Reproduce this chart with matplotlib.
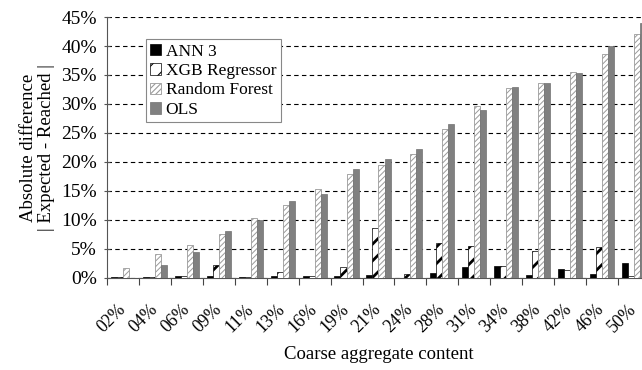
import numpy as np
import matplotlib
matplotlib.use("Agg")
import matplotlib.pyplot as plt
import matplotlib.transforms as mtransforms
from matplotlib.ticker import PercentFormatter, FixedLocator

plt.rcParams['font.family'] = ['Liberation Serif', 'DejaVu Serif']
plt.rcParams['hatch.linewidth'] = 0.8

# data (percent)
categories = ["02%", "04%", "06%", "09%", "11%", "13%", "16%", "19%", "21%",
              "24%", "28%", "31%", "34%", "38%", "42%", "46%", "50%"]
ann3 = [0.1, 0.1, 0.3, 0.3, 0.2, 0.3, 0.4, 0.3, 0.45,
        0.05, 0.9, 1.9, 2.1, 0.45, 1.6, 0.6, 2.6]
xgb = [0.1, 0.1, 0.4, 2.2, 0.1, 1.0, 0.4, 1.8, 8.6,
       0.75, 6.1, 5.45, 2.0, 4.65, 1.3, 5.35, 0.3]
rforest = [1.7, 4.2, 5.75, 7.65, 10.25, 12.5, 15.4, 18.0, 19.4,
           21.4, 25.6, 29.6, 32.8, 33.6, 35.6, 38.7, 42.1]
ols = [0.0, 2.2, 4.5, 8.05, 9.95, 13.3, 14.4, 18.7, 20.5,
       22.2, 26.5, 28.9, 33.0, 33.6, 35.3, 40.0, 44.0]

fig = plt.figure(figsize=(6.42, 3.70), dpi=100)
ax = fig.add_axes([0.167, 0.249, 0.845, 0.705])

x = np.arange(len(categories))
w = 0.19
ax.bar(x - 1.5*w, ann3, w, color='black', edgecolor='black', lw=0.5, label='ANN 3', zorder=3)
xb = ax.bar(x - 0.5*w, xgb, w, color='white', edgecolor='black', hatch='//', lw=0.5,
            label='XGB Regressor', zorder=3)
rb = ax.bar(x + 0.5*w, rforest, w, color='white', edgecolor='#9a9a9a', hatch='//////', lw=0.6,
            label='Random Forest', zorder=3)
ax.bar(x + 1.5*w, ols, w, color='#808080', edgecolor='#707070', lw=0.5, label='OLS', zorder=3)

# thick stripes for XGB, thin grey ones for random forest
for p in xb:
    p.set_hatch_linewidth(2.0)
for p in rb:
    p.set_hatch_linewidth(0.7)

ax.set_xlim(-0.5, len(categories) - 0.5)
ax.set_ylim(0, 45)
ax.yaxis.set_major_locator(FixedLocator(np.arange(0, 46, 5)))
ax.yaxis.set_major_formatter(PercentFormatter(decimals=0))
ax.set_xticks(x)
ax.set_xticklabels(categories, rotation=45, ha='right', va='center', rotation_mode='anchor')
shift = mtransforms.ScaledTranslation(-4/100, 0, fig.dpi_scale_trans)
for lab in ax.get_xticklabels():
    lab.set_transform(lab.get_transform() + shift)
ax.xaxis.set_minor_locator(FixedLocator(np.arange(-0.5, len(categories), 1)))
ax.tick_params(axis='x', which='major', length=0, labelsize=12.8, pad=21)
ax.tick_params(axis='x', which='minor', length=5, width=0.8, color='#444444')
ax.tick_params(axis='y', direction='inout', length=5, width=0.8, color='#555555',
               labelsize=14, pad=5)

ax.grid(axis='y', linestyle=(0, (4, 3)), color='black', lw=0.8, zorder=0)
for s in ['top', 'right']:
    ax.spines[s].set_visible(False)
ax.spines['left'].set_color('#555555')
ax.spines['bottom'].set_color('#555555')

ax.set_ylabel("Absolute difference\n| Expected - Reached |", fontsize=13.5, labelpad=4,
              linespacing=1.1)
ax.set_xlabel("Coarse aggregate content", fontsize=13.5, labelpad=7)

leg = ax.legend(loc='upper left', bbox_to_anchor=(0.071, 0.915), fontsize=12.5,
                frameon=True, fancybox=False, edgecolor='#888888', framealpha=1,
                handlelength=0.65, handleheight=0.65, handletextpad=0.25,
                labelspacing=0.2, borderpad=0.25, borderaxespad=0)
leg.get_frame().set_linewidth(0.8)

fig.savefig("out.png", dpi=100)
